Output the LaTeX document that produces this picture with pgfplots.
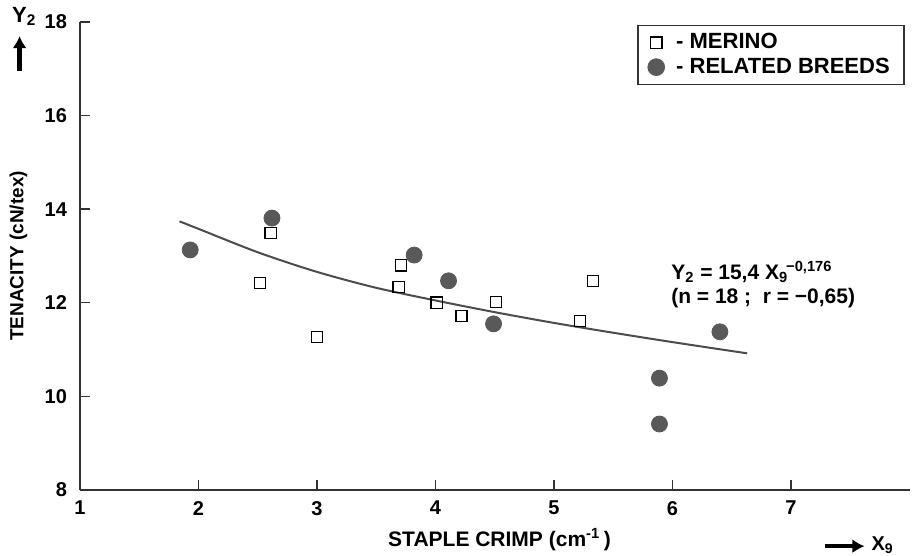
\documentclass[border=0pt]{standalone}
\usepackage{fontspec}
\setmainfont{Liberation Sans}
\usepackage{pgfplots}
\pgfplotsset{compat=1.18}
\usetikzlibrary{arrows.meta}
\begin{document}
\begin{tikzpicture}
\path[use as bounding box] (0,0) rectangle (457.5pt,278pt);
\begin{axis}[
  at={(40pt,33pt)}, anchor=south west,
  x=59.25pt, y=23.4pt,
  xmin=1, xmax=8, ymin=8, ymax=18,
  axis lines*=left,
  axis line style={line width=0.8pt, black!80},
  xtick={1,2,3,4,5,6,7}, ytick={8,10,12,14,16,18},
  tick align=inside,
  major tick length=5pt,
  tick style={line width=0.7pt, black!80},
  /pgf/number format/assume math mode=true,
  ticklabel style={font=\fontsize{10}{12}\selectfont\bfseries},
  xticklabel style={yshift=-2pt},
  yticklabel style={xshift=-3pt},
  clip=false,
  legend style={at={(0.994,0.994)}, anchor=north east, draw=black!80, line width=0.8pt,
    font=\fontsize{11}{13}\selectfont\bfseries, inner xsep=5pt, inner ysep=2pt,
    row sep=-1pt, cells={anchor=west}},
  legend cell align=left,
]
\addplot[no marks, smooth, line width=1pt, black!70, forget plot] coordinates {
(1.84,13.74) (2.0,13.58) (2.5,13.08) (3.0,12.66) (3.5,12.32) (4.0,12.05)
(4.5,11.80) (5.0,11.57) (5.5,11.36) (6.0,11.16) (6.63,10.92)};
\addplot[only marks, mark=square, mark size=2.8pt,
  mark options={draw=black, line width=0.7pt, fill=white}] coordinates {
(2.61,13.49) (2.52,12.42) (3.00,11.27) (3.71,12.80) (3.69,12.34)
(4.01,12.00) (4.22,11.72) (4.51,12.02) (5.22,11.61) (5.33,12.47)};
\addlegendentry{\hspace{4pt}- MERINO}
\addplot[only marks, mark=*, mark size=4pt,
  mark options={draw=black!65, fill=black!65}] coordinates {
(1.93,13.13) (2.62,13.81) (3.82,13.02) (4.11,12.47) (4.49,11.55)
(5.89,10.39) (5.89,9.41) (6.40,11.38)};
\addlegendentry{\hspace{4pt}- RELATED BREEDS}
% annotation
\node[font=\fontsize{10.5}{12}\selectfont\bfseries, align=left, anchor=west] at (axis cs:5.93,12.4)
  {Y\textsubscript{2} = 15,4 X\textsubscript{9}\hspace{-0.1em}\textsuperscript{−0,176}\\(n = 18 ;\ \ r = −0,65)};
% axis labels
\node[rotate=90, font=\fontsize{9.5}{11}\selectfont\bfseries] at (axis cs:0.48,13.0) {TENACITY (cN/tex)};
\node[font=\fontsize{10.5}{12}\selectfont\bfseries] at (axis cs:4.54,6.93) {STAPLE CRIMP (cm\textsuperscript{-1}\,)};
\draw[-{Latex[length=6pt,width=7pt]}, line width=2.2pt] (axis cs:7.29,6.80) -- (axis cs:7.62,6.80);
\node[font=\fontsize{10}{12}\selectfont\bfseries, anchor=west] at (axis cs:7.62,6.82) {X\textsubscript{9}};
\node[font=\fontsize{11}{13}\selectfont\bfseries] at (axis cs:0.53,18.12) {Y\textsubscript{2}};
\draw[-{Latex[length=6pt,width=7pt]}, line width=2.4pt] (axis cs:0.49,16.95) -- (axis cs:0.49,17.7);
\end{axis}
\end{tikzpicture}
\end{document}
